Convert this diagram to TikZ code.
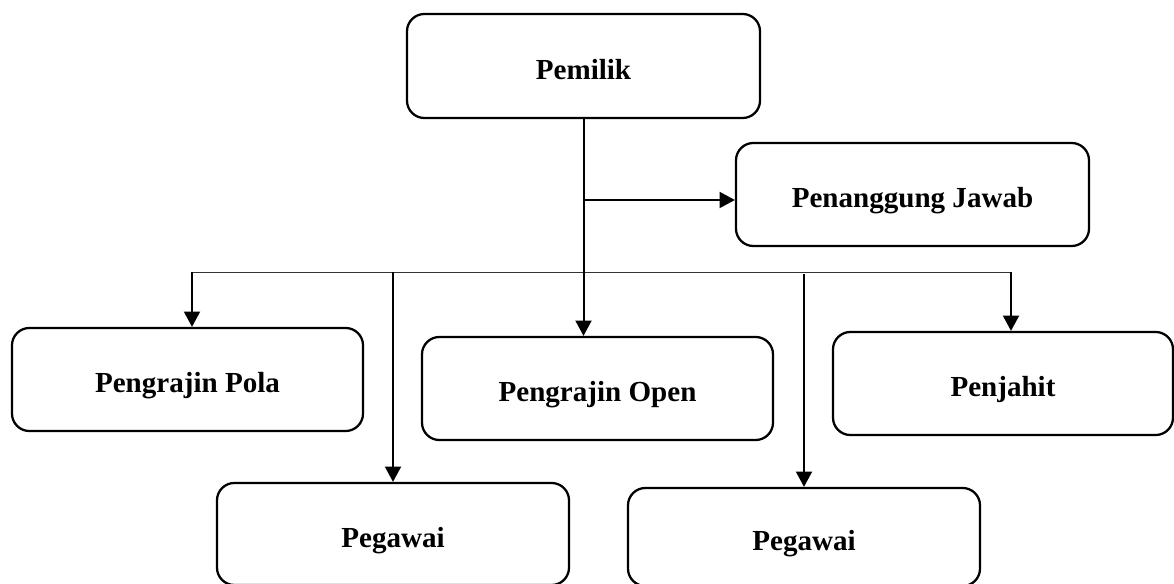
\documentclass[tikz,border=0pt]{standalone}
\usepackage{fontspec}
\setmainfont{Liberation Serif}
\usetikzlibrary{arrows.meta,calc}
\tikzset{
  box/.style={draw=black, line width=1.7pt, rounded corners=13pt, inner sep=0pt,
              text height=20pt, text depth=0pt,
              font=\fontsize{21.8}{26}\selectfont\bfseries, fill=white},
  conn/.style={line width=1.5pt, -{Triangle[length=11.5pt,width=12pt]}},
  bus/.style={line width=0.9pt, draw=black!80}
}
\begin{document}
\begin{tikzpicture}[x=0.75pt,y=-0.75pt]
\useasboundingbox (0,0) rectangle (1174,584);
\node[box, minimum width=264.75pt, minimum height=78pt] (pem) at (583.5,66) {Pemilik};
\node[box, minimum width=264.75pt, minimum height=77.25pt] (pj) at (912.5,194.5) {Penanggung Jawab};
\node[box, minimum width=263.25pt, minimum height=77.25pt] (pp) at (187.5,379.5) {Pengrajin Pola};
\node[box, minimum width=263.25pt, minimum height=77.25pt] (po) at (597.5,388.5) {Pengrajin Open};
\node[box, minimum width=255pt, minimum height=77.25pt] (pjh) at (1003,383.5) {Penjahit};
\node[box, minimum width=264pt, minimum height=76.5pt] (pg1) at (393,534) {Pegawai};
\node[box, minimum width=264pt, minimum height=73.5pt] (pg2) at (804,537) {Pegawai};

\coordinate (busL) at (192,272.5);
\coordinate (busR) at (1011,272.5);
\coordinate (pjin) at ($(pj.west)+(0,5.5)$);

\draw[bus] (busL) -- (busR);
\draw[conn] (pem.south) -- (pem.south |- po.north);
\draw[conn] (pem.south |- pjin) -- (pjin);
\draw[conn] (busL) -- (busL |- pp.north);
\draw[conn] (pg1.north |- busL) -- (pg1.north);
\draw[conn] ($(pg2.north |- busL)+(0,2)$) -- (pg2.north);
\draw[conn] (busR) -- (busR |- pjh.north);
\end{tikzpicture}
\end{document}
